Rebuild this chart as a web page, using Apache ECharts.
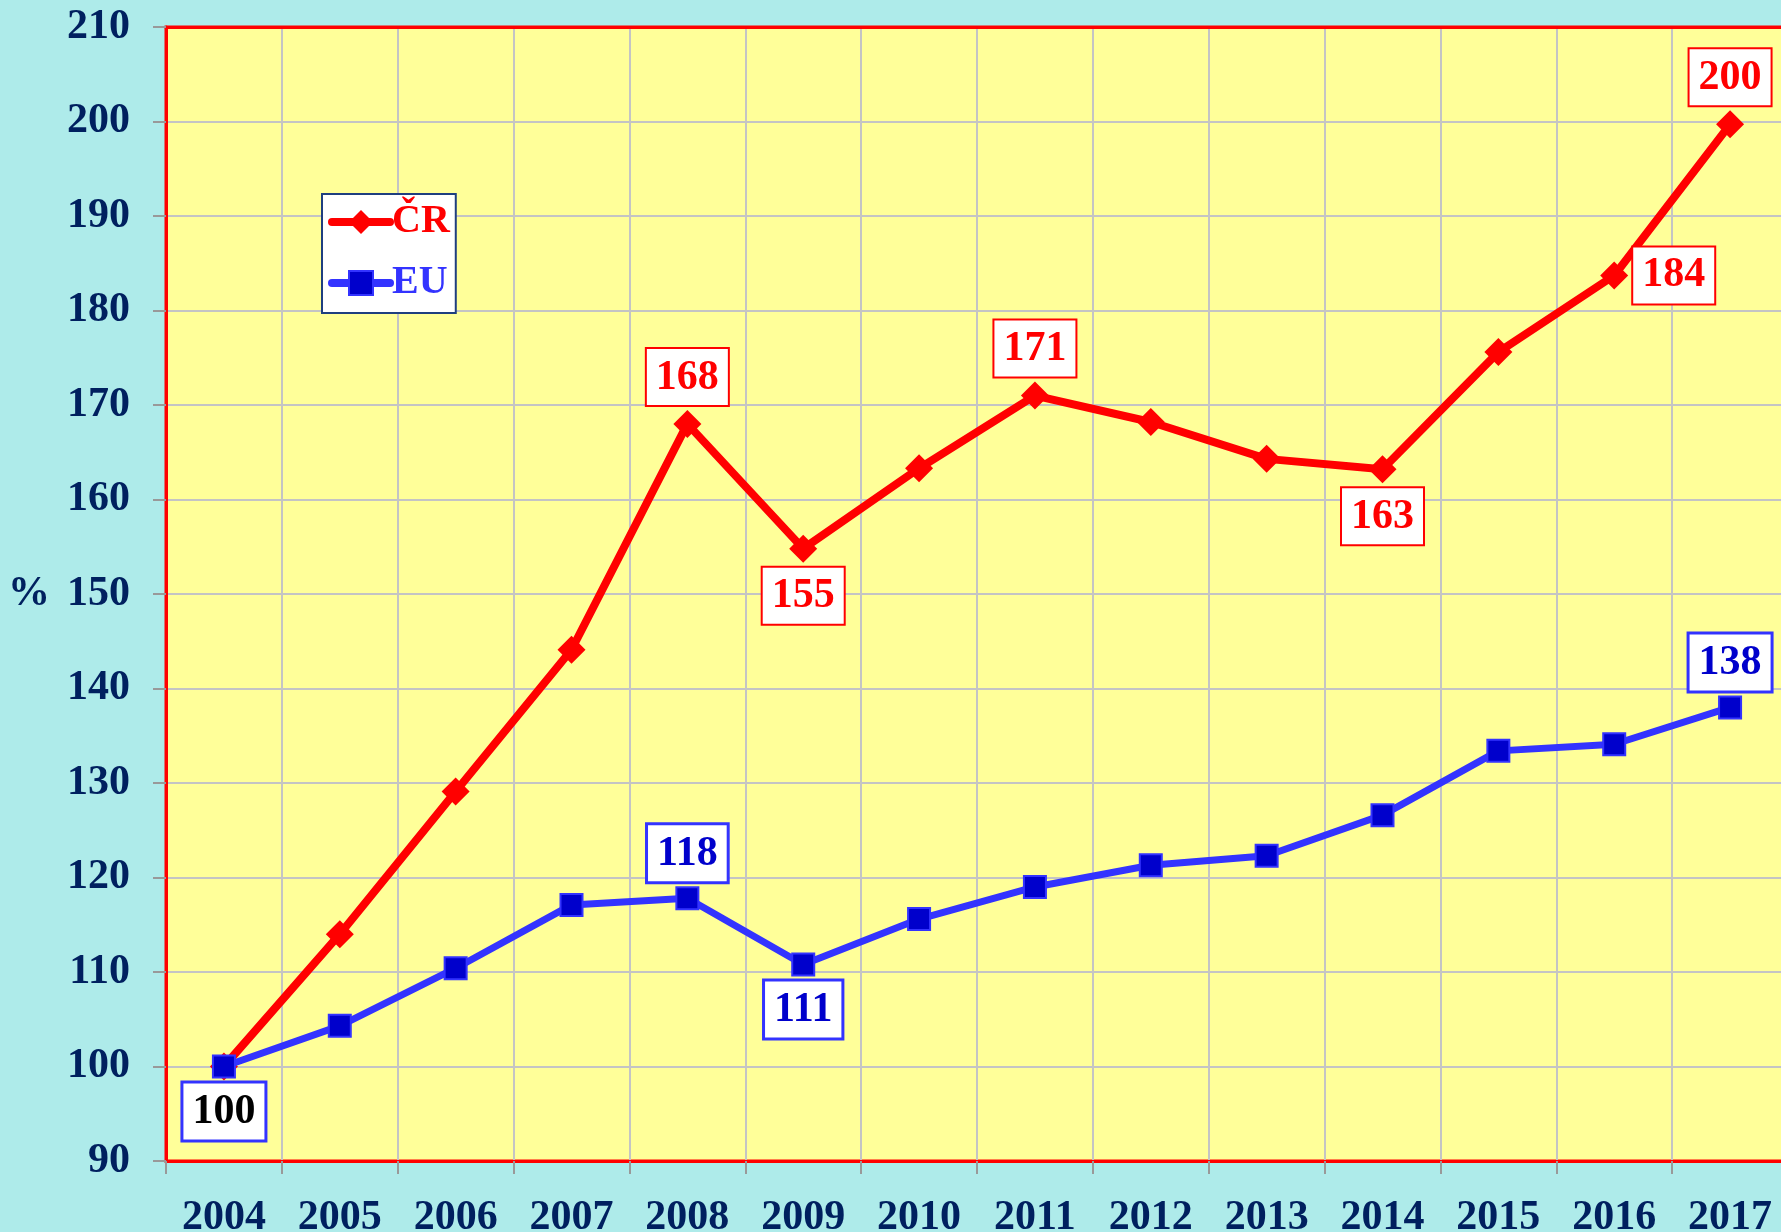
<!DOCTYPE html>
<html>
<head>
<meta charset="utf-8">
<script src="https://cdn.jsdelivr.net/npm/echarts@6/dist/echarts.min.js"></script>
<style>
  html, body { margin: 0; padding: 0; background: #AEEBEA; }
  #chart { width: 1781px; height: 1232px; }
</style>
</head>
<body>
<div id="chart"></div>
<script>
  // roky a hodnoty (2004 = 100 %)
  var years = ['2004','2005','2006','2007','2008','2009','2010','2011','2012','2013','2014','2015','2016','2017'];
  var crValues = [100, 114.0, 129.1, 144.1, 168.0, 154.8, 163.3, 171.0, 168.2, 164.3, 163.2, 175.6, 183.7, 199.7];
  var euValues = [100, 104.3, 110.4, 117.1, 117.8, 110.8, 115.6, 119.0, 121.3, 122.3, 126.6, 133.4, 134.1, 138.0];
  var yTicks = { min: 90, max: 210, step: 10 };

  // ktere body maji popisek a kam
  var crLabelPos = { 4: 'top', 5: 'bottom', 7: 'top', 10: 'bottom', 12: 'right', 13: 'top' };
  var euLabelPos = { 0: 'bottom', 4: 'top', 5: 'bottom', 13: 'top' };

  var font = 'Liberation Serif';
  var navy = '#00205F';

  function boxLabel(color, border, bw) {
    return {
      show: true,
      fontFamily: font,
      fontWeight: 'bold',
      fontSize: 42,
      lineHeight: 42,
      color: color,
      backgroundColor: '#ffffff',
      borderColor: border,
      borderWidth: bw,
      padding: [8, 9, 6, 9],
      formatter: function (p) { return Math.round(p.value); }
    };
  }

  function buildData(values, posMap, label, firstColor) {
    return values.map(function (v, i) {
      if (posMap[i] === undefined) return v;
      var l = Object.assign({}, label, { position: posMap[i] });
      if (i === 0 && firstColor) l.color = firstColor;
      return { value: v, label: l };
    });
  }

  var chart = echarts.init(document.getElementById('chart'));
  chart.setOption({
    backgroundColor: '#AEEBEA',
    animation: false,
    grid: {
      left: 166, top: 27, width: 1622, height: 1134,
      outerBoundsMode: 'none',
      containLabel: false,
      show: true,
      backgroundColor: '#FFFF99',
      borderColor: '#FF0000',
      borderWidth: 3
    },
    legend: {
      orient: 'vertical',
      left: 322, top: 194,
      backgroundColor: '#ffffff',
      borderColor: '#1F3F7F',
      borderWidth: 2,
      padding: [8, 6, 10, 6],
      itemGap: 21,
      itemWidth: 58,
      itemHeight: 30,
      selectedMode: false,
      lineStyle: { width: 8, cap: 'round' },
      textStyle: { fontFamily: font, fontWeight: 'bold', fontSize: 40, lineHeight: 40, padding: [0, 0, 0, -3] },
      data: [
        { name: 'ČR', textStyle: { color: '#FF0000' } },
        { name: 'EU', textStyle: { color: '#3333FF' } }
      ]
    },
    xAxis: [
      {
        type: 'category',
        data: years,
        boundaryGap: true,
        axisLine: { show: true, lineStyle: { color: '#FF0000', width: 3 } },
        axisTick: { show: true, length: 13, lineStyle: { color: '#999999', width: 2 } },
        splitLine: { show: true, lineStyle: { color: '#C4C4C4', width: 2 } },
        axisLabel: { fontFamily: font, fontWeight: 'bold', fontSize: 42, color: navy, margin: 36, interval: 0 }
      },
      {
        type: 'category',
        data: years,
        position: 'top',
        axisLine: { show: true, lineStyle: { color: '#FF0000', width: 3 } },
        axisTick: { show: false },
        axisLabel: { show: false },
        splitLine: { show: false }
      }
    ],
    yAxis: {
      type: 'value',
      min: yTicks.min, max: yTicks.max, interval: yTicks.step,
      name: '%',
      nameLocation: 'middle',
      nameRotate: 0,
      nameGap: 116,
      nameTextStyle: { fontFamily: font, fontWeight: 'bold', fontSize: 42, color: navy, align: 'right' },
      axisLine: { show: true, lineStyle: { color: '#FF0000', width: 3 } },
      axisTick: { show: true, length: 13, lineStyle: { color: '#999999', width: 2 } },
      splitLine: { show: true, lineStyle: { color: '#C4C4C4', width: 2 } },
      axisLabel: { fontFamily: font, fontWeight: 'bold', fontSize: 42, color: navy, margin: 36 }
    },
    series: [
      {
        name: 'ČR',
        type: 'line',
        data: buildData(crValues, crLabelPos, boxLabel('#FF0000', '#FF0000', 2)),
        symbol: 'diamond',
        symbolSize: 28,
        lineStyle: { color: '#FF0000', width: 8 },
        itemStyle: { color: '#FF0000' },
        label: { show: false },
        z: 2
      },
      {
        name: 'EU',
        type: 'line',
        data: buildData(euValues, euLabelPos, boxLabel('#0000CC', '#3333FF', 3), '#000000'),
        symbol: 'rect',
        symbolSize: 22,
        lineStyle: { color: '#3333FF', width: 7 },
        itemStyle: { color: '#0000CC', borderColor: '#3333FF', borderWidth: 2 },
        label: { show: false },
        z: 3
      }
    ]
  });
</script>
</body>
</html>
